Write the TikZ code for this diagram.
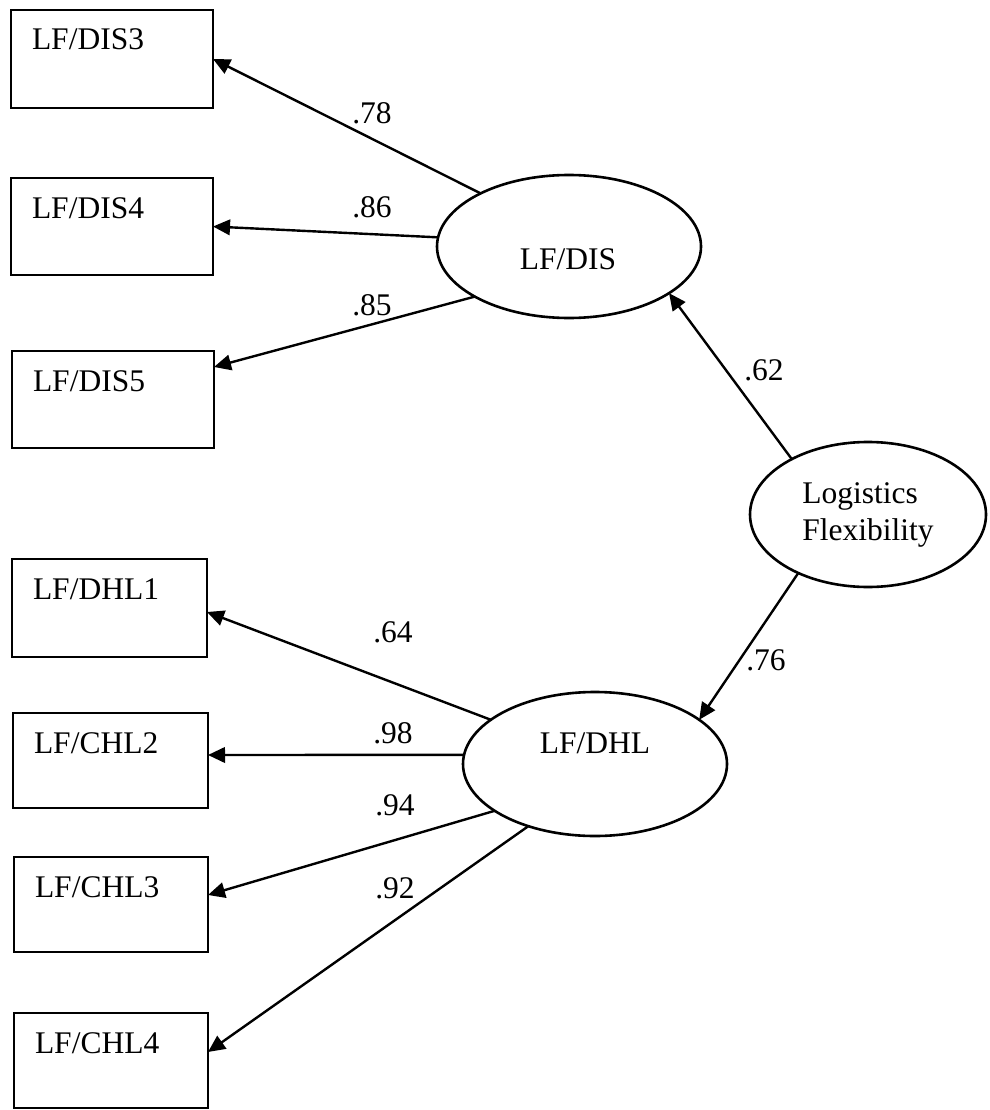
\documentclass[tikz,border=0pt]{standalone}
\usepackage{fontspec}
\setmainfont{Liberation Serif}
\usetikzlibrary{shapes.geometric,arrows.meta}
\begin{document}
\begin{tikzpicture}[x=1pt,y=-1pt,
  every node/.style={font=\fontsize{31.5}{37}\selectfont},
  obs/.style 2 args={draw, line width=2.8pt, anchor=north west,
    inner xsep=21pt, inner ysep=0pt, outer sep=0pt, align=left,
    text width=#1, text height=40pt, text depth=#2},
  latent/.style 2 args={draw, ellipse, line width=2.6pt, inner sep=0pt,
    outer sep=0pt, minimum width=#1, minimum height=#2},
  coef/.style={inner sep=0pt},
  arr/.style={line width=2.4pt, -{Triangle[length=17pt,width=15.5pt]}}]
\useasboundingbox (0,0) rectangle (989,1110);

% observed indicators
\node[obs={160pt}{58pt}] (dis3) at (11,10)   {LF/DIS3};
\node[obs={160pt}{57pt}] (dis4) at (11,178)  {LF/DIS4};
\node[obs={160pt}{57pt}] (dis5) at (12,351)  {LF/DIS5};
\node[obs={153pt}{58pt}] (dhl1) at (12,559)  {LF/DHL1};
\node[obs={153pt}{55pt}] (chl2) at (13,713)  {LF/CHL2};
\node[obs={152pt}{55pt}] (chl3) at (14,857)  {LF/CHL3};
\node[obs={152pt}{55pt}] (chl4) at (14,1013) {LF/CHL4};

% latent factors
\node[latent={264pt}{143pt}] (dis) at (569,246.5) {};
\node at (568,259) (dist) {LF/DIS};
\node[latent={264pt}{144pt}] (dhl) at (595,764) {};
\node at (595,743) (dhlt) {LF/DHL};
\node[latent={236pt}{145pt}, align=left] (lf) at (868,514.5) {Logistics\\Flexibility};

% loadings
\draw[arr] (dis.149) -- (dis3.east);
\draw[arr] (dis.176) -- (dis4.east);
\draw[arr] (dis.208) -- ([yshift=32.5pt]dis5.east);
\draw[arr] (lf.144) -- (dis.335);
\draw[arr] (lf.220) -- (dhl.23);
\draw[arr] (dhl.157) -- ([yshift=-4pt]dhl1.east);
\draw[arr] (dhl.176) -- ([yshift=5.5pt]chl2.east);
\draw[arr] (dhl.205.5) -- ([yshift=9.5pt]chl3.east);
\draw[arr] (dhl.223) -- ([yshift=8.5pt]chl4.east);

% coefficients
\node[coef] (c78) at (372,113) {.78};
\node[coef] (c86) at (372,207) {.86};
\node[coef] (c85) at (372,305) {.85};
\node[coef] (c62) at (764,370) {.62};
\node[coef] (c76) at (766,660) {.76};
\node[coef] (c64) at (393,632) {.64};
\node[coef] (c98) at (393,733) {.98};
\node[coef] (c94) at (395,805) {.94};
\node[coef] (c92) at (395,888) {.92};
\end{tikzpicture}
\end{document}
